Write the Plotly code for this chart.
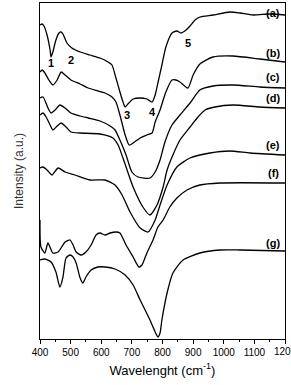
import plotly.graph_objects as go

# Wavenumber (cm^-1) and intensity (a.u., offset-stacked)
a_x = [400, 407, 413, 423, 433, 436, 442, 452, 462, 469, 475, 488, 504, 531, 563, 596, 622, 635, 648, 661, 671, 678, 687, 704, 727, 749, 766, 776, 785, 798, 811, 831, 847, 860, 873, 890, 906, 922, 965, 1020, 1053, 1096, 1151, 1200]
a_y = [314, 315, 313, 304, 289, 282, 287, 299, 306, 307, 305, 296, 291, 287, 284, 281, 277, 274, 261, 247, 237, 232, 235, 240, 241, 240, 237, 244, 256, 274, 292, 306, 308, 306, 308, 313, 319, 322, 324, 327, 326, 324, 325, 324]

b_x = [400, 407, 416, 429, 442, 456, 469, 482, 501, 531, 557, 612, 635, 648, 661, 678, 691, 704, 727, 749, 766, 776, 792, 811, 831, 844, 857, 883, 900, 922, 965, 1030, 1118, 1200]
b_y = [267, 269, 266, 259, 254, 259, 267, 264, 259, 255, 251, 246, 242, 237, 224, 204, 194, 196, 201, 204, 206, 217, 229, 247, 259, 259, 257, 251, 264, 275, 282, 283, 280, 277]

c_x = [400, 410, 426, 436, 449, 465, 482, 501, 531, 557, 596, 629, 645, 661, 681, 700, 720, 759, 776, 792, 808, 831, 857, 890, 922, 965, 1030, 1118, 1200]
c_y = [241, 242, 231, 226, 229, 234, 231, 226, 223, 221, 218, 213, 209, 199, 184, 167, 162, 161, 167, 179, 197, 214, 224, 236, 249, 253, 254, 252, 251]

d_x = [400, 410, 420, 433, 442, 456, 469, 485, 501, 531, 596, 638, 655, 671, 704, 736, 759, 782, 802, 815, 834, 857, 890, 913, 939, 971, 1030, 1118, 1200]
d_y = [224, 226, 222, 214, 209, 213, 216, 212, 207, 206, 205, 201, 194, 181, 152, 132, 124, 134, 152, 169, 184, 199, 212, 221, 229, 232, 234, 232, 231]

e_x = [400, 410, 423, 439, 459, 482, 514, 563, 612, 645, 668, 694, 727, 753, 776, 792, 815, 847, 890, 955, 1020, 1086, 1200]
e_y = [171, 172, 169, 164, 171, 167, 164, 159, 159, 154, 144, 127, 111, 107, 119, 134, 154, 172, 181, 186, 188, 186, 184]

f_x = [400, 403, 416, 426, 442, 459, 482, 498, 508, 518, 534, 550, 567, 583, 596, 612, 629, 648, 661, 681, 704, 723, 733, 749, 769, 785, 802, 824, 847, 880, 922, 988, 1200]
f_y = [119, 92, 86, 96, 86, 87, 97, 99, 94, 87, 84, 87, 94, 104, 106, 104, 106, 107, 106, 94, 82, 72, 74, 86, 99, 112, 119, 132, 141, 149, 154, 156, 156]

g_x = [400, 416, 436, 452, 465, 475, 485, 498, 508, 518, 531, 540, 550, 567, 589, 612, 645, 678, 704, 727, 759, 776, 785, 792, 798, 815, 834, 867, 922, 988, 1053, 1200]
g_y = [79, 80, 77, 67, 52, 62, 81, 84, 82, 76, 61, 56, 62, 69, 72, 72, 70, 64, 54, 39, 19, 7, 2, 6, 19, 46, 66, 79, 86, 89, 89, 88]

series = [(a_x, a_y), (b_x, b_y), (c_x, c_y), (d_x, d_y), (e_x, e_y), (f_x, f_y), (g_x, g_y)]
curve_labels = ["(a)", "(b)", "(c)", "(d)", "(e)", "(f)", "(g)"]
curve_label_y = [326, 286, 262, 241, 194, 166, 96]
peak_labels = ["1", "2", "3", "4", "5"]
peak_label_x = [436, 501, 684, 766, 883]
peak_label_y = [276, 279, 224, 227, 296]
tick_vals = [400, 500, 600, 700, 800, 900, 1000, 1100]
last_tick = 1200

FONT = "Liberation Sans, Arial, sans-serif"

fig = go.Figure()
for xs, ys in series:
    fig.add_trace(go.Scatter(x=xs, y=ys, mode="lines",
                             line=dict(color="black", width=1.3, shape="spline", smoothing=0.6),
                             showlegend=False, hoverinfo="skip"))

for lab, yy in zip(curve_labels, curve_label_y):
    fig.add_annotation(x=1161, y=yy, text="<b>%s</b>" % lab, showarrow=False,
                       font=dict(family=FONT, size=11, color="black"))
for lab, xx, yy in zip(peak_labels, peak_label_x, peak_label_y):
    fig.add_annotation(x=xx, y=yy, text="<b>%s</b>" % lab, showarrow=False,
                       font=dict(family=FONT, size=11, color="black"))

# last tick label, which the page edge cuts as in the reference
fig.add_annotation(x=last_tick, y=0, yref="y", text=str(last_tick), showarrow=False,
                   yanchor="top", xanchor="center", yshift=-5,
                   font=dict(family=FONT, size=10, color="black"))

fig.update_layout(
    width=291, height=385,
    margin=dict(l=40, r=6, t=3, b=46),
    paper_bgcolor="white", plot_bgcolor="white",
    font=dict(family=FONT, color="black"),
    xaxis=dict(range=[400, 1200], tickmode="array",
               tickvals=tick_vals + [last_tick],
               ticktext=[str(v) for v in tick_vals] + [""],
               ticks="outside", ticklen=4, tickwidth=1, tickcolor="black",
               minor=dict(dtick=50, ticks="outside", ticklen=2, tickcolor="black"),
               showline=True, linecolor="black", linewidth=1.3, mirror=True,
               showgrid=False, zeroline=False,
               tickfont=dict(size=10, family=FONT),
               title=dict(text="Wavelenght (cm<sup>-1</sup>)", font=dict(size=13, family=FONT), standoff=8)),
    yaxis=dict(range=[0, 336], showticklabels=False, ticks="",
               showline=True, linecolor="black", linewidth=1.3, mirror=True,
               showgrid=False, zeroline=False,
               title=dict(text="Intensity (a.u.)", font=dict(size=12, family=FONT, color="#333"), standoff=12)),
)

fig.write_html("out.html")
